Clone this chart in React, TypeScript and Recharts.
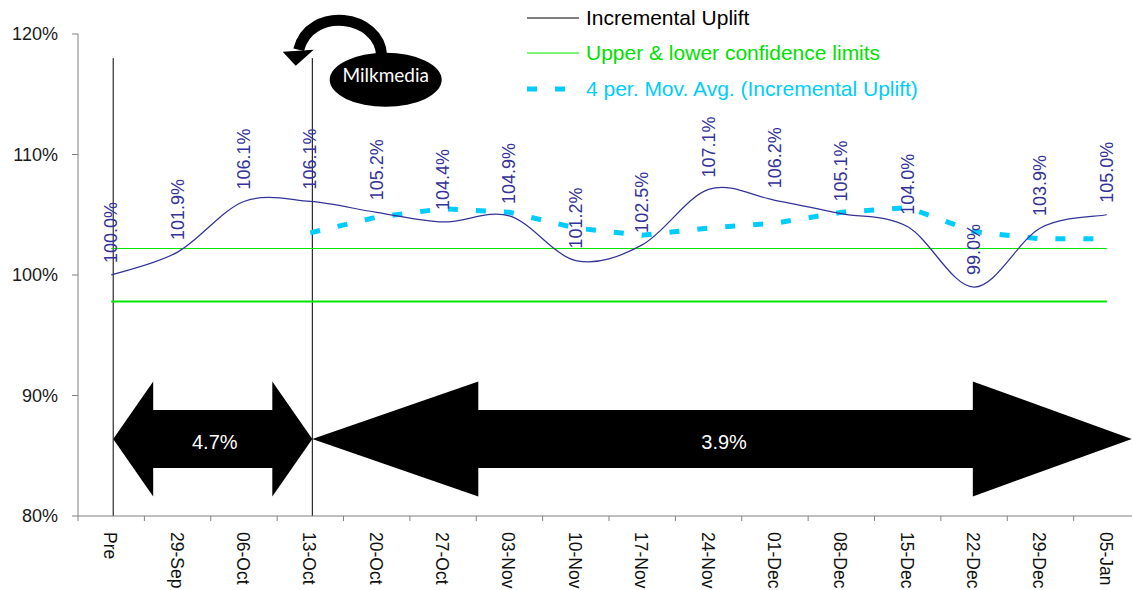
import React from 'react';
import {
  LineChart,
  Line,
  XAxis,
  YAxis,
  ReferenceLine,
  ReferenceDot,
  LabelList,
  Legend,
} from 'recharts';

const FONT = 'Arial, "Liberation Sans", sans-serif';

const weeks = [
  'Pre', '29-Sep', '06-Oct', '13-Oct', '20-Oct', '27-Oct', '03-Nov', '10-Nov',
  '17-Nov', '24-Nov', '01-Dec', '08-Dec', '15-Dec', '22-Dec', '29-Dec', '05-Jan',
];
const uplift = [
  100.0, 101.9, 106.1, 106.1, 105.2, 104.4, 104.9, 101.2,
  102.5, 107.1, 106.2, 105.1, 104.0, 99.0, 103.9, 105.0,
];
const movingAvg = [
  null, null, null, 103.5, 104.8, 105.5, 105.2, 103.9,
  103.3, 103.9, 104.3, 105.2, 105.6, 103.6, 103.0, 103.0,
];
const upperLimit = [
  102.2, 102.2, 102.2, 102.2, 102.2, 102.2, 102.2, 102.2,
  102.2, 102.2, 102.2, 102.2, 102.2, 102.2, 102.2, 102.2,
];
const lowerLimit = [
  97.8, 97.8, 97.8, 97.8, 97.8, 97.8, 97.8, 97.8,
  97.8, 97.8, 97.8, 97.8, 97.8, 97.8, 97.8, 97.8,
];
const yTicks = [80, 90, 100, 110, 120];
const periodLabels = ['4.7%', '3.9%'];

const data = weeks.map((week, i) => ({
  week,
  uplift: uplift[i],
  avg: movingAvg[i],
  confUpper: upperLimit[i],
  confLower: lowerLimit[i],
}));

const GREEN = '#00e600';
// hand-drawn annotations sit a couple of pixels right of the category centre
const NUDGE = 2;

// Excel-style smoothed line: cubic beziers with catmull-rom control points
const excelSmooth = (context: any) => {
  let pts: [number, number][] = [];
  return {
    areaStart() {},
    areaEnd() {},
    lineStart() {
      pts = [];
    },
    point(x: number, y: number) {
      pts.push([+x, +y]);
    },
    lineEnd() {
      const n = pts.length;
      if (!n) return;
      context.moveTo(pts[0][0], pts[0][1]);
      for (let i = 0; i < n - 1; i++) {
        const p0 = pts[Math.max(i - 1, 0)];
        const p1 = pts[i];
        const p2 = pts[i + 1];
        const p3 = pts[Math.min(i + 2, n - 1)];
        context.bezierCurveTo(
          p1[0] + (p2[0] - p0[0]) / 6, p1[1] + (p2[1] - p0[1]) / 6,
          p2[0] - (p3[0] - p1[0]) / 6, p2[1] - (p3[1] - p1[1]) / 6,
          p2[0], p2[1],
        );
      }
    },
  };
};

const ValueLabel = (props: any) => {
  const { x, y, value } = props;
  if (value == null) return null;
  const ly = y - 12;
  return (
    <text
      x={x}
      y={ly}
      transform={`rotate(-90 ${x} ${ly})`}
      textAnchor="start"
      dominantBaseline="central"
      fill="#333399"
      fontSize={18}
      fontFamily={FONT}
    >
      {`${Number(value).toFixed(1)}%`}
    </text>
  );
};

// tick marks sit between categories, labels run top-to-bottom
const WeekTick = (props: any) => {
  const { x, y, payload, width, visibleTicksCount } = props;
  const half = width && visibleTicksCount ? width / visibleTicksCount / 2 : 33.2;
  const tx = x - half;
  const ty = y + 16;
  return (
    <g>
      <line x1={tx} y1={y} x2={tx} y2={y + 5} stroke="#808080" />
      <text
        x={x - 1}
        y={ty}
        transform={`rotate(90 ${x - 1} ${ty})`}
        textAnchor="start"
        dominantBaseline="central"
        fill="#111"
        fontSize={17.5}
        fontFamily={FONT}
      >
        {payload.value}
      </text>
    </g>
  );
};

const markerLine = (props: any) => {
  const { x1, y1, x2, y2 } = props;
  return <line x1={x1 + NUDGE} y1={y1} x2={x2 + NUDGE} y2={y2} stroke="#000" strokeWidth={1} />;
};

const arrowShape = (label: string, headL: number, headR: number, overhang: number) => (props: any) => {
  const { x1, y1, x2 } = props;
  const xa = x1 + NUDGE;
  const xb = x2 + overhang;
  const y = y1;
  const hh = 57.5;
  const bh = 29;
  const pts = [
    [xa, y], [xa + headL, y - hh], [xa + headL, y - bh], [xb - headR, y - bh],
    [xb - headR, y - hh], [xb, y], [xb - headR, y + hh], [xb - headR, y + bh],
    [xa + headL, y + bh], [xa + headL, y + hh],
  ];
  return (
    <g>
      <polygon points={pts.map(p => p.join(',')).join(' ')} fill="#000" />
      <text
        x={(xa + xb) / 2 + 2}
        y={y + 3}
        textAnchor="middle"
        dominantBaseline="central"
        fill="#fff"
        fontSize={20}
        fontFamily={FONT}
      >
        {label}
      </text>
    </g>
  );
};

const calloutShape = (props: any) => {
  const { cx, cy } = props;
  const ex = cx + 9;
  return (
    <g>
      <path
        d={`M ${ex - 4} ${cy - 24} C ${ex - 6} ${cy - 66}, ${ex - 76} ${cy - 74}, ${ex - 87} ${cy - 30}`}
        fill="none"
        stroke="#000"
        strokeWidth={11}
      />
      <polygon
        points={`${ex - 103},${cy - 28} ${ex - 72},${cy - 30} ${ex - 90},${cy - 14}`}
        fill="#000"
      />
      <ellipse cx={ex} cy={cy} rx={56} ry={27} fill="#000" />
      <text
        x={ex}
        y={cy - 5}
        textAnchor="middle"
        dominantBaseline="central"
        fill="#fff"
        fontSize={19}
        fontFamily="Lato, sans-serif"
      >
        Milkmedia
      </text>
    </g>
  );
};

const legendItems = [
  { label: 'Incremental Uplift', color: '#000', text: '#000', width: 1, dash: undefined },
  { label: 'Upper & lower confidence limits', color: GREEN, text: '#00e000', width: 1.2, dash: undefined },
  { label: '4 per. Mov. Avg. (Incremental Uplift)', color: '#00ccff', text: '#00ccff', width: 5, dash: '10 18' },
];

const renderLegend = () => (
  <div style={{ fontFamily: FONT, fontSize: 21 }}>
    {legendItems.map(item => (
      <div key={item.label} style={{ display: 'flex', alignItems: 'center', height: 35.5 }}>
        <svg width={52} height={10} style={{ marginRight: 7 }}>
          <line
            x1={0}
            y1={5}
            x2={52}
            y2={5}
            stroke={item.color}
            strokeWidth={item.width}
            strokeDasharray={item.dash}
          />
        </svg>
        <span style={{ color: item.text, whiteSpace: 'nowrap' }}>{item.label}</span>
      </div>
    ))}
  </div>
);

export default function App() {
  return (
    <div style={{ position: 'absolute', left: 0, top: 0, width: 1132, height: 590, overflow: 'hidden', background: '#fff' }}>
      <LineChart width={1150} height={590} data={data} margin={{ top: 34, right: 10, bottom: 0, left: 0 }}>
        <XAxis
          dataKey="week"
          scale="band"
          interval={0}
          height={74}
          tickLine={false}
          tickSize={0}
          tickMargin={0}
          axisLine={{ stroke: '#808080' }}
          tick={<WeekTick />}
        />
        <YAxis
          domain={[80, 120]}
          ticks={yTicks}
          width={78}
          tickFormatter={(v: number) => `${v}%`}
          axisLine={{ stroke: '#808080' }}
          tickLine={{ stroke: '#808080' }}
          tickSize={6}
          tickMargin={14}
          tick={{ fontSize: 18, fill: '#1a1a1a', fontFamily: FONT }}
        />
        <Legend
          layout="vertical"
          align="center"
          verticalAlign="middle"
          content={renderLegend}
          wrapperStyle={{ left: 527, top: 0, width: 440, height: 110 }}
        />
        <ReferenceLine segment={[{ x: 'Pre', y: 118 }, { x: 'Pre', y: 80 }]} shape={markerLine} />
        <ReferenceLine segment={[{ x: '13-Oct', y: 118 }, { x: '13-Oct', y: 80 }]} shape={markerLine} />
        <ReferenceLine
          segment={[{ x: 'Pre', y: 86.4 }, { x: '13-Oct', y: 86.4 }]}
          shape={arrowShape(periodLabels[0], 40, 40, NUDGE)}
        />
        <ReferenceLine
          segment={[{ x: '13-Oct', y: 86.4 }, { x: '05-Jan', y: 86.4 }]}
          shape={arrowShape(periodLabels[1], 166, 159, 25)}
        />
        <ReferenceDot x="20-Oct" y={116.2} shape={calloutShape} />
        <Line
          dataKey="confUpper"
          stroke={GREEN}
          strokeWidth={1.2}
          dot={false}
          activeDot={false}
          type="linear"
          isAnimationActive={false}
        />
        <Line
          dataKey="confLower"
          stroke={GREEN}
          strokeWidth={1.8}
          dot={false}
          activeDot={false}
          type="linear"
          isAnimationActive={false}
        />
        <Line
          dataKey="avg"
          stroke="#00ccff"
          strokeWidth={5}
          strokeDasharray="10 18"
          dot={false}
          activeDot={false}
          type="linear"
          isAnimationActive={false}
        />
        <Line
          dataKey="uplift"
          stroke="#333399"
          strokeWidth={1.25}
          dot={false}
          activeDot={false}
          type={excelSmooth as any}
          isAnimationActive={false}
        >
          <LabelList dataKey="uplift" content={<ValueLabel />} />
        </Line>
      </LineChart>
    </div>
  );
}
